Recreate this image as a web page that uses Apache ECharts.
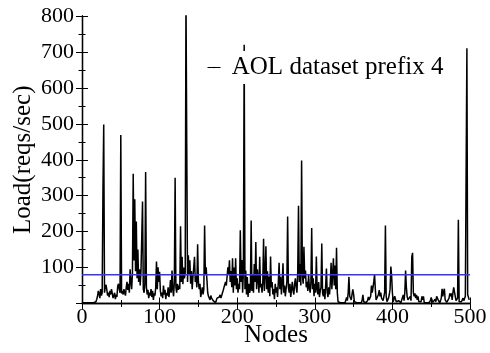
<!DOCTYPE html>
<html>
<head>
<meta charset="utf-8">
<script src="https://cdn.jsdelivr.net/npm/echarts@6/dist/echarts.min.js"></script>
<style>
  html, body { margin: 0; padding: 0; background: #fff; }
  #chart { width: 490px; height: 353px; }
</style>
</head>
<body>
<div id="chart"></div>
<script>
// Per-node request load (reqs/sec), node index 0..499
const seriesName = 'AOL dataset prefix 4';
const load = [
  2,2,2,2,2,2,2,2,2,2,
  2,2,2,2,2,2,2,3,5,12,
  20,35,28,15,40,22,30,313,498,30,
  45,52,38,22,30,18,35,25,40,28,
  15,22,30,12,25,18,48,55,40,30,
  469,28,35,25,40,30,22,45,60,38,
  55,30,95,60,40,85,361,120,290,90,
  228,70,150,60,95,50,90,185,284,40,
  30,55,366,45,25,38,15,30,22,40,
  18,35,10,28,22,45,117,40,101,60,
  88,35,20,30,15,50,25,38,12,30,
  22,45,18,35,65,30,92,40,20,60,
  350,45,30,55,38,50,40,215,60,130,
  54,100,70,85,860,441,60,134,80,120,
  55,90,40,75,101,130,60,77,45,165,
  60,40,55,18,30,45,25,40,217,80,
  101,65,30,20,25,10,22,15,18,8,
  12,5,2,8,15,12,20,18,24,15,
  22,30,37,45,40,60,50,55,101,80,
  120,60,90,45,126,30,100,50,126,40,
  70,30,55,40,204,60,121,30,90,720,
  40,92,25,74,18,55,30,40,231,35,
  80,30,110,60,171,40,95,70,30,130,
  45,55,30,60,180,35,80,159,40,90,
  30,75,20,131,45,60,25,40,12,55,
  30,45,18,60,113,40,74,25,60,112,
  30,50,20,40,60,242,45,30,55,18,
  40,60,35,25,55,70,45,30,90,272,
  60,110,50,398,80,55,158,70,92,45,
  60,35,80,45,30,60,210,40,70,20,
  55,30,131,40,25,60,18,35,45,167,
  30,20,40,12,50,97,30,18,45,25,
  60,113,40,35,126,50,106,40,155,30,
  5,2,2,2,2,2,2,2,2,2,
  5,17,8,30,74,20,18,10,26,39,
  26,5,2,2,2,2,2,2,2,2,
  2,10,24,5,2,2,2,2,8,18,
  10,5,20,50,30,45,60,81,40,10,
  5,15,25,37,20,30,15,20,8,3,
  30,217,20,5,8,15,25,40,103,78,
  30,5,10,20,12,5,2,3,8,13,
  5,2,10,15,24,8,30,92,45,20,
  10,5,15,20,8,130,141,30,20,28,
  15,24,10,20,5,2,2,5,20,10,
  20,3,2,2,2,2,2,2,5,8,
  17,10,3,5,8,12,5,20,24,10,
  5,2,8,15,41,20,35,41,10,5,
  3,2,8,15,28,20,28,10,30,45,
  45,20,8,10,15,233,5,2,2,5,
  10,15,8,12,20,15,710,25,20,10
];
// Average load across all nodes (horizontal reference line)
const meanLoad = 80;
const nodeRange = [0, 500];
const loadRange = [0, 800];

const font = 'Liberation Serif';
const frame = { show: true, lineStyle: { color: '#000', width: 1.3 } };
const ticks = { show: true, inside: true, length: 6, lineStyle: { color: '#000', width: 1 } };
const minor = { show: true, splitNumber: 2, length: 3.5, lineStyle: { color: '#000', width: 1 } };

const chart = echarts.init(document.getElementById('chart'), null, { renderer: 'canvas' });
chart.setOption({
  animation: false,
  backgroundColor: '#fff',
  grid: { left: 82, right: 20, top: 16, bottom: 49.5, containLabel: false, outerBoundsMode: 'none' },
  legend: {
    data: [{ name: seriesName }],
    top: 51, left: 201,
    padding: [3, 6],
    backgroundColor: '#fff',
    itemWidth: 13, itemHeight: 2,
    lineStyle: { width: 1 },
    formatter: n => ' ' + n,
    textStyle: { fontFamily: font, fontSize: 25, color: '#000', lineHeight: 27 }
  },
  xAxis: [
    {
      type: 'value', min: nodeRange[0], max: nodeRange[1], interval: 100,
      name: 'Nodes', nameLocation: 'middle', nameGap: 19, nameMoveOverlap: false,
      nameTextStyle: { fontFamily: font, fontSize: 25, color: '#000' },
      axisLine: frame, axisTick: ticks, minorTick: minor,
      splitLine: { show: false },
      axisLabel: { fontFamily: font, fontSize: 22, color: '#000', margin: 3 }
    },
    {
      type: 'value', position: 'top', min: nodeRange[0], max: nodeRange[1], interval: 100,
      axisLine: frame, axisTick: ticks, minorTick: minor,
      splitLine: { show: false }, axisLabel: { show: false }
    }
  ],
  yAxis: [
    {
      type: 'value', min: loadRange[0], max: loadRange[1], interval: 100,
      name: 'Load(reqs/sec)', nameLocation: 'middle', nameGap: 46, nameMoveOverlap: false,
      nameTextStyle: { fontFamily: font, fontSize: 25, color: '#000' },
      axisLine: frame, axisTick: ticks, minorTick: minor,
      splitLine: { show: false },
      axisLabel: { fontFamily: font, fontSize: 22, color: '#000', margin: 8, showMinLabel: false }
    },
    {
      type: 'value', position: 'right', min: loadRange[0], max: loadRange[1], interval: 100,
      axisLine: frame, axisTick: ticks, minorTick: minor,
      splitLine: { show: false }, axisLabel: { show: false }
    }
  ],
  series: [
    {
      name: seriesName,
      type: 'line',
      data: load.map((v, i) => [i, v]),
      symbol: 'none',
      clip: true,
      lineStyle: { color: '#000', width: 1.5 },
      itemStyle: { color: '#000' },
      z: 2
    },
    {
      name: 'mean',
      type: 'line',
      data: nodeRange.map(x => [x, meanLoad]),
      symbol: 'none',
      lineStyle: { color: '#3535f5', width: 1.3 },
      z: 3
    }
  ]
});
</script>
</body>
</html>
